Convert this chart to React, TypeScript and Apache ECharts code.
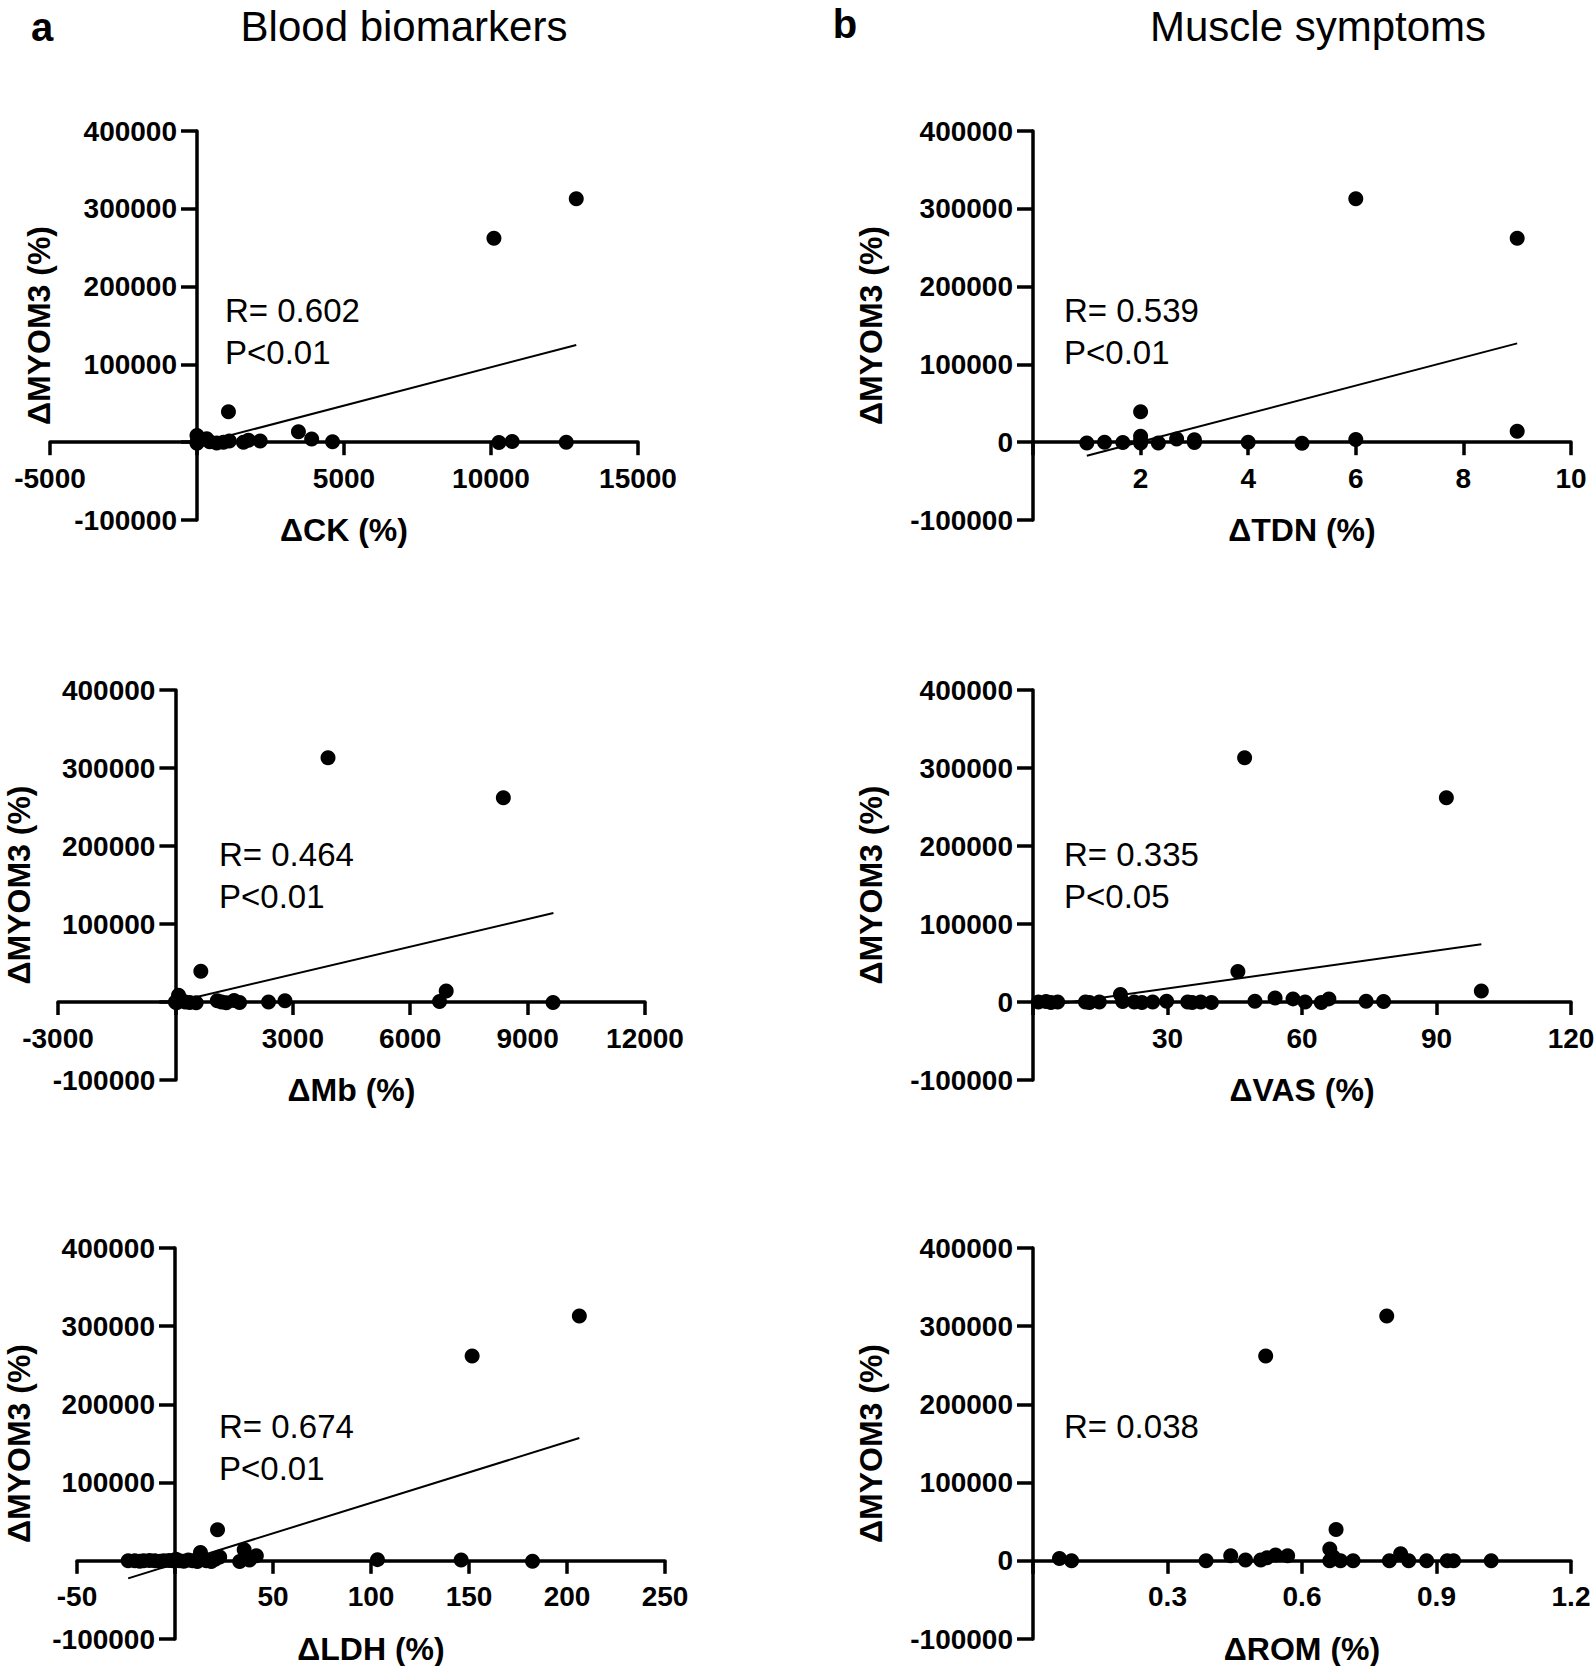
import React, { useEffect, useRef } from "react";
import * as echarts from "echarts";

const FONT = '"Liberation Sans", Arial, Helvetica, sans-serif';

// Panel a1: ΔCK vs ΔMYOM3
const ckX = [0, 0, 0, 100, 330, 430, 670, 900, 1070, 1100, 1580, 1750, 2150, 3450, 3900, 4610, 10270, 10720, 12560, 10100, 12900];
const ckY = [8500, 0, -1500, 3000, 4500, 500, -1000, 0, 39000, 1500, 0, 2500, 1500, 13500, 4000, 500, -500, 1000, 0, 262000, 313000];
const ckFitX = [0, 12900];
const ckFitY = [-2300, 125000];

// Panel b1: ΔTDN vs ΔMYOM3
const tdnX = [1, 1.33, 1.67, 2, 2, 2, 2, 2.33, 2.67, 3, 3, 4, 5, 6, 6, 9, 9];
const tdnY = [-1000, 0, -500, 39000, 7500, 2000, -1000, -1000, 4000, 3000, -500, 0, -1500, 3500, 313000, 262000, 14000];
const tdnFitX = [1, 9];
const tdnFitY = [-17500, 127000];

// Panel a2: ΔMb vs ΔMYOM3
const mbX = [0, 30, 80, 150, 250, 365, 530, 650, 1070, 1180, 1300, 1500, 1640, 2380, 2800, 3900, 6750, 6920, 8380, 9650];
const mbY = [0, -1000, 8500, 2500, 0, -500, -1000, 39500, 1500, 0, -1000, 2000, -500, 0, 1500, 313000, 500, 14000, 262000, -500];
const mbFitX = [0, 9660];
const mbFitY = [100, 114000];

// Panel b2: ΔVAS vs ΔMYOM3
const vasX = [1.2, 2.9, 4, 5.5, 11.7, 12.6, 14.8, 19.5, 20, 22.6, 24.3, 26.7, 29.8, 34.5, 35.5, 37.4, 39.8, 45.7, 47.2, 49.5, 54, 58, 60.7, 64.3, 66, 74.3, 78.2, 92.2, 100];
const vasY = [0, 500, -500, 0, 0, -500, 0, 9500, 500, 0, -500, 0, 1000, 0, -500, 0, -500, 39000, 313000, 1000, 5000, 4000, 0, -500, 4000, 1000, 500, 262000, 14000];
const vasFitX = [1, 100];
const vasFitY = [-6000, 74000];

// Panel a3: ΔLDH vs ΔMYOM3
const ldhX = [-23.9, -20.5, -18, -16, -13, -10.3, -7.5, -5.7, -3, -1.1, 0.5, 2.3, 4.5, 6.8, 9, 11.4, 13, 16, 18.5, 20.5, 21.7, 22.8, 33, 35.3, 38, 41.5, 103.3, 146, 151.6, 182.4, 206.3];
const ldhY = [0, 0, -500, 0, 500, 0, -500, 0, 500, 0, 2000, 0, -500, 1000, 0, -1000, 10500, 0, -1000, 2000, 39800, 5000, -1000, 14000, 1000, 6500, 1500, 1000, 262000, -500, 313000];
const ldhFitX = [-23.9, 206.3];
const ldhFitY = [-22500, 157000];

// Panel b3: ΔROM vs ΔMYOM3
const romX = [0.059, 0.086, 0.386, 0.441, 0.474, 0.508, 0.522, 0.541, 0.519, 0.568, 0.662, 0.662, 0.67, 0.676, 0.686, 0.714, 0.789, 0.795, 0.82, 0.838, 0.878, 0.924, 0.938, 1.022];
const romY = [3000, 0, 0, 6500, 1000, 1000, 4000, 7500, 262000, 6500, 15000, 0, 5000, 40000, 0, 0, 313000, 0, 9000, 0, 0, 0, 0, 0];

const yMin = -100000;
const yMax = 400000;
const yInterval = 100000;

const statTexts = [
  ["R= 0.602", "P<0.01"],
  ["R= 0.539", "P<0.01"],
  ["R= 0.464", "P<0.01"],
  ["R= 0.335", "P<0.05"],
  ["R= 0.674", "P<0.01"],
  ["R= 0.038"],
];

const panels = [
  { grid: { left: 50, top: 131, width: 588, height: 389 }, xMin: -5000, xMax: 15000, xInt: 5000, xName: "ΔCK (%)", xs: ckX, ys: ckY, fx: ckFitX, fy: ckFitY, hideYZero: true, yGap: 142, tx: 225, ty: 310 },
  { grid: { left: 1033, top: 131, width: 538, height: 389 }, xMin: 0, xMax: 10, xInt: 2, xName: "ΔTDN (%)", xs: tdnX, ys: tdnY, fx: tdnFitX, fy: tdnFitY, hideYZero: false, yGap: 146, tx: 1064, ty: 310 },
  { grid: { left: 58, top: 690, width: 587, height: 390 }, xMin: -3000, xMax: 12000, xInt: 3000, xName: "ΔMb (%)", xs: mbX, ys: mbY, fx: mbFitX, fy: mbFitY, hideYZero: true, yGap: 140, tx: 219, ty: 854 },
  { grid: { left: 1033, top: 690, width: 538, height: 390 }, xMin: 0, xMax: 120, xInt: 30, xName: "ΔVAS (%)", xs: vasX, ys: vasY, fx: vasFitX, fy: vasFitY, hideYZero: false, yGap: 146, tx: 1064, ty: 854 },
  { grid: { left: 77, top: 1248, width: 588, height: 391 }, xMin: -50, xMax: 250, xInt: 50, xName: "ΔLDH (%)", xs: ldhX, ys: ldhY, fx: ldhFitX, fy: ldhFitY, hideYZero: true, yGap: 140, tx: 219, ty: 1426 },
  { grid: { left: 1033, top: 1248, width: 538, height: 391 }, xMin: 0, xMax: 1.2, xInt: 0.3, xName: "ΔROM (%)", xs: romX, ys: romY, fx: null, fy: null, hideYZero: false, yGap: 146, tx: 1064, ty: 1426 },
];

function fmt(v: number) {
  return String(Math.round(v * 1000) / 1000);
}

export default function App() {
  const ref = useRef<HTMLDivElement>(null);
  useEffect(() => {
    if (!ref.current) return;
    const chart = echarts.init(ref.current, undefined, { renderer: "svg" });
    const grids: any[] = [];
    const xAxes: any[] = [];
    const yAxes: any[] = [];
    const series: any[] = [];
    const graphics: any[] = [];
    const axisLineStyle = { color: "#000", width: 3.5 };
    panels.forEach((p, i) => {
      grids.push({ ...p.grid, containLabel: false, outerBoundsMode: "none" });
      // axes cross at zero: shift each axis from the grid edge to the other axis' zero
      const xOffset = -p.grid.height * (0 - yMin) / (yMax - yMin);
      const yOffset = -p.grid.width * (0 - p.xMin) / (p.xMax - p.xMin);
      xAxes.push({
        gridIndex: i,
        type: "value",
        position: "bottom",
        offset: xOffset,
        min: p.xMin,
        max: p.xMax,
        interval: p.xInt,
        axisLine: { show: true, onZero: false, lineStyle: axisLineStyle },
        axisTick: { show: true, length: 13, lineStyle: axisLineStyle },
        splitLine: { show: false },
        axisLabel: {
          fontSize: 28,
          fontWeight: "bold",
          color: "#000",
          fontFamily: FONT,
          margin: 22,
          formatter: (v: number) => (Math.abs(v) < 1e-9 ? "" : fmt(v)),
        },
        name: p.xName,
        nameLocation: "middle",
        nameGap: 72,
        nameTextStyle: { fontSize: 32, fontWeight: "bold", color: "#000", fontFamily: FONT },
      });
      yAxes.push({
        gridIndex: i,
        type: "value",
        position: "left",
        offset: yOffset,
        min: yMin,
        max: yMax,
        interval: yInterval,
        axisLine: { show: true, onZero: false, lineStyle: axisLineStyle },
        axisTick: { show: true, length: 16, lineStyle: axisLineStyle },
        splitLine: { show: false },
        axisLabel: {
          fontSize: 28,
          fontWeight: "bold",
          color: "#000",
          fontFamily: FONT,
          margin: 20,
          formatter: (v: number) => (p.hideYZero && v === 0 ? "" : String(v)),
        },
        name: "ΔMYOM3 (%)",
        nameLocation: "middle",
        nameGap: p.yGap,
        nameTextStyle: { fontSize: 32, fontWeight: "bold", color: "#000", fontFamily: FONT },
      });
      if (p.fx && p.fy) {
        series.push({
          type: "line",
          xAxisIndex: i,
          yAxisIndex: i,
          data: p.fx.map((x, k) => [x, p.fy![k]]),
          symbol: "none",
          lineStyle: { color: "#000", width: 2 },
          z: 2,
          silent: true,
        });
      }
      series.push({
        type: "scatter",
        xAxisIndex: i,
        yAxisIndex: i,
        data: p.xs.map((x, k) => [x, p.ys[k]]),
        symbol: "circle",
        symbolSize: 15,
        itemStyle: { color: "#000", opacity: 1 },
        z: 3,
      });
      statTexts[i].forEach((t, k) => {
        graphics.push({
          type: "text",
          x: p.tx,
          y: p.ty + k * 42,
          style: {
            text: t,
            fontSize: 33,
            fontFamily: FONT,
            fill: "#000",
            align: "left",
            verticalAlign: "middle",
          },
        });
      });
    });
    graphics.push(
      { type: "text", x: 42, y: 27, style: { text: "a", fontSize: 40, fontWeight: "bold", fontFamily: FONT, fill: "#000", align: "center", verticalAlign: "middle" } },
      { type: "text", x: 404, y: 26, style: { text: "Blood biomarkers", fontSize: 42, fontFamily: FONT, fill: "#000", align: "center", verticalAlign: "middle" } },
      { type: "text", x: 845, y: 24, style: { text: "b", fontSize: 40, fontWeight: "bold", fontFamily: FONT, fill: "#000", align: "center", verticalAlign: "middle" } },
      { type: "text", x: 1318, y: 26, style: { text: "Muscle symptoms", fontSize: 42, fontFamily: FONT, fill: "#000", align: "center", verticalAlign: "middle" } }
    );
    chart.setOption({
      animation: false,
      backgroundColor: "#fff",
      grid: grids,
      xAxis: xAxes,
      yAxis: yAxes,
      series,
      graphic: graphics,
    });
    return () => chart.dispose();
  }, []);
  return (
    <div
      ref={ref}
      style={{ position: "absolute", left: 0, top: 0, width: 1594, height: 1666, background: "#fff" }}
    />
  );
}
